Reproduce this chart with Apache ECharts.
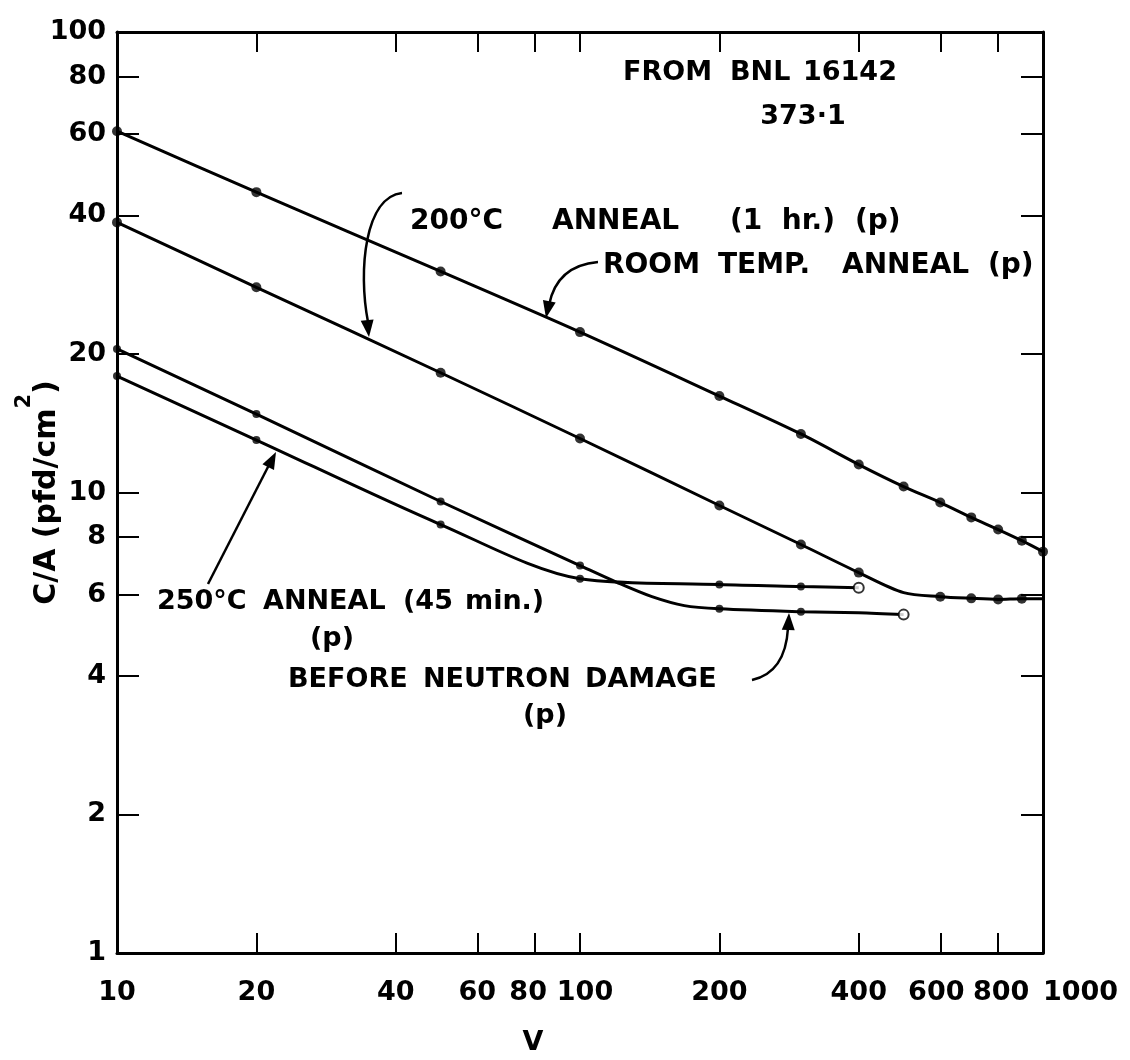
<!DOCTYPE html>
<html><head><meta charset="utf-8">
<script src="https://cdn.jsdelivr.net/npm/echarts@6/dist/echarts.min.js"></script>
<style>html,body{margin:0;padding:0;background:#fff}#c{width:1130px;height:1060px}</style>
</head><body><div id="c"></div>
<script>
// ---- tick / label values ----
const xTickValues = [20, 40, 60, 80, 100, 200, 400, 600, 800];
const xLabelValues = [10, 20, 40, 60, 80, 100, 200, 400, 600, 800, 1000];
const yTickValues = [2, 4, 6, 8, 10, 20, 40, 60, 80];
const yLabelValues = [1, 2, 4, 6, 8, 10, 20, 40, 60, 80, 100];

// ---- ROOM TEMP. ANNEAL (p) ----
const roomV  = [10, 20, 50, 100, 200, 300, 400, 500, 600, 700, 800, 900, 1000];
const roomCA = [60.9, 44.9, 30.2, 22.3, 16.2, 13.4, 11.5, 10.3, 9.51, 8.83, 8.31, 7.86, 7.44];

// ---- 200°C ANNEAL (1 hr.) (p) ----
const a200V  = [10, 20, 50, 100, 200, 300, 400, 600, 700, 800, 900];
const a200CA = [38.6, 27.9, 18.2, 13.1, 9.37, 7.71, 6.70, 5.94, 5.89, 5.86, 5.88];
const a200CurveV  = [500, 1000];
const a200CurveCA = [6.06, 5.88];

// ---- 250°C ANNEAL (45 min.) (p) ----
const a250V  = [10, 20, 50, 100, 200, 300];
const a250CA = [17.9, 13.0, 8.52, 6.5, 6.31, 6.25];
const a250OpenV  = [400];
const a250OpenCA = [6.21];

// ---- BEFORE NEUTRON DAMAGE (p) ----
const preV  = [10, 20, 50, 100, 200, 300];
const preCA = [20.5, 14.8, 9.56, 6.94, 5.59, 5.51];
const preOpenV  = [500];
const preOpenCA = [5.43];
const preCurveV  = [121, 143, 168, 400];
const preCurveCA = [6.36, 5.94, 5.68, 5.48];

const lg = v => Math.round(Math.log10(v) * 1e9) / 1e9;
const FONT = '"DejaVu Sans", "Liberation Sans", sans-serif';
function pts(v, c) { return v.map((x, i) => [lg(x), lg(c[i])]); }
function merged(...pairs) {
  let all = [];
  for (let i = 0; i < pairs.length; i += 2) all = all.concat(pts(pairs[i], pairs[i + 1]));
  return all.sort((a, b) => a[0] - b[0]);
}
const val = v => Math.round(Math.pow(10, v));
const fmtY = v => String(val(v));

const labelStyle = { color: '#000', fontFamily: FONT, fontWeight: 'bold', fontSize: 27 };
// hand-lettered label offsets of the original (px, + = right)
const xNudge = { 80: -7, 100: 5, 600: -4, 800: 3 };
const xRich = {};
Object.keys(xNudge).forEach(k => {
  const d = xNudge[k];
  xRich['n' + k] = Object.assign({ padding: d > 0 ? [0, 0, 0, 2 * d] : [0, -2 * d, 0, 0] }, labelStyle);
});
const fmtX = v => { const n = val(v); return xNudge[n] !== undefined ? '{n' + n + '|' + n + '}' : String(n); };

const chart = echarts.init(document.getElementById('c'), null, { renderer: 'canvas' });

const axisLine = { show: true, onZero: false, lineStyle: { color: '#000', width: 3 } };
const tickStyle = { color: '#000', width: 2 };

function lineSeries(data) {
  return { type: 'line', data, smooth: 0.3, showSymbol: false, symbol: 'none',
    lineStyle: { color: '#000', width: 3 }, z: 2, silent: true };
}
function dotSeries(data, size) {
  return { type: 'scatter', data, symbol: 'circle', symbolSize: size,
    itemStyle: { color: '#000' }, z: 3, silent: true };
}
function openSeries(data) {
  return { type: 'scatter', data, symbol: 'circle', symbolSize: 10,
    itemStyle: { color: '#fff', borderColor: '#000', borderWidth: 2 }, z: 4, silent: true };
}

chart.setOption({
  animation: false,
  backgroundColor: '#fff',
  grid: { left: 117, right: 87, top: 32, bottom: 107, containLabel: false, outerBoundsMode: 'none' },
  xAxis: [
    { type: 'value', min: 1, max: 3, position: 'bottom',
      axisLine, splitLine: { show: false },
      axisTick: { show: true, inside: true, length: 20, lineStyle: tickStyle, customValues: xTickValues.map(lg) },
      axisLabel: Object.assign({ customValues: xLabelValues.map(lg), formatter: fmtX, margin: 26,
        alignMaxLabel: 'left', rich: xRich }, labelStyle),
      name: 'V', nameLocation: 'middle', nameGap: 76, nameMoveOverlap: false,
      nameTextStyle: Object.assign({ padding: [0, 94, 0, 0] }, labelStyle) },
    { type: 'value', min: 1, max: 3, position: 'top',
      axisLine, splitLine: { show: false },
      axisTick: { show: true, inside: true, length: 20, lineStyle: tickStyle, customValues: xTickValues.map(lg) },
      axisLabel: { show: false } }
  ],
  yAxis: [
    { type: 'value', min: 0, max: 2, position: 'left',
      axisLine, splitLine: { show: false },
      axisTick: { show: true, inside: true, length: 22, lineStyle: tickStyle, customValues: yTickValues.map(lg) },
      axisLabel: Object.assign({ customValues: yLabelValues.map(lg), formatter: fmtY, margin: 11 }, labelStyle),
      name: '{t|C/A (pfd/cm}{s|2}{t|)}', nameLocation: 'middle', nameGap: 36, nameRotate: 90,
      nameMoveOverlap: false,
      nameTextStyle: { rich: {
        t: { fontFamily: FONT, fontWeight: 'bold', fontSize: 30, color: '#000' },
        s: { fontFamily: FONT, fontWeight: 'bold', fontSize: 21, color: '#000', padding: [0, 0, 46, 0] }
      } } },
    { type: 'value', min: 0, max: 2, position: 'right',
      axisLine, splitLine: { show: false },
      axisTick: { show: true, inside: true, length: 22, lineStyle: tickStyle, customValues: yTickValues.map(lg) },
      axisLabel: { show: false } }
  ],
  series: [
    lineSeries(merged(roomV, roomCA)),
    dotSeries(pts(roomV, roomCA), 10),
    lineSeries(merged(a200V, a200CA, a200CurveV, a200CurveCA)),
    dotSeries(pts(a200V, a200CA), 10),
    lineSeries(merged(a250V, a250CA, a250OpenV, a250OpenCA)),
    dotSeries(pts(a250V, a250CA), 8),
    openSeries(pts(a250OpenV, a250OpenCA)),
    lineSeries(merged(preV, preCA, preOpenV, preOpenCA, preCurveV, preCurveCA)),
    dotSeries(pts(preV, preCA), 8),
    openSeries(pts(preOpenV, preOpenCA))
  ]
});

// ---- annotations ----
function txt(text, x, y, align, size) {
  return { type: 'text', z: 10, silent: true,
    style: { text, x, y, font: 'bold ' + (size || 28) + 'px ' + FONT, fill: '#000',
      align: align || 'left', verticalAlign: 'middle' } };
}
function head(tx, ty, fx, fy) {
  const dx = tx - fx, dy = ty - fy, L = Math.hypot(dx, dy), ux = dx / L, uy = dy / L;
  const len = 17, hw = 6.5;
  const bx = tx - ux * len, by = ty - uy * len;
  return { type: 'polygon', z: 10, silent: true,
    shape: { points: [[tx, ty], [bx - uy * hw, by + ux * hw], [bx + uy * hw, by - ux * hw]] },
    style: { fill: '#000' } };
}
function curve(x1, y1, cx1, cy1, cx2, cy2, x2, y2) {
  return { type: 'bezierCurve', z: 10, silent: true,
    shape: { x1, y1, cpx1: cx1, cpy1: cy1, cpx2: cx2, cpy2: cy2, x2, y2 },
    style: { stroke: '#000', lineWidth: 2.5, fill: null } };
}
const graphics = [
  txt('FROM', 623, 73, 'left', 27), txt('BNL', 730, 73, 'left', 27), txt('16142', 803, 73, 'left', 27),
  txt('373\u00b71', 803, 117, 'center', 27),
  txt('200\u00b0C', 410, 222), txt('ANNEAL', 552, 222), txt('(1  hr.)', 730, 222), txt('(p)', 855, 222),
  txt('ROOM', 603, 266), txt('TEMP.', 718, 266), txt('ANNEAL', 842, 266), txt('(p)', 988, 266),
  txt('250\u00b0C', 157, 602, 'left', 27), txt('ANNEAL', 263, 602, 'left', 27),
  txt('(45', 403, 602, 'left', 27), txt('min.)', 465, 602, 'left', 27),
  txt('(p)', 332, 639, 'center', 27),
  txt('BEFORE', 288, 680, 'left', 27), txt('NEUTRON', 423, 680, 'left', 27), txt('DAMAGE', 585, 680, 'left', 27),
  txt('(p)', 545, 716, 'center', 27),
  // 200°C arrow
  curve(402, 193, 365, 197, 358, 270, 368, 322),
  head(369, 337, 366, 310),
  // room temp arrow
  curve(598, 262, 575, 264, 555, 275, 549, 305),
  head(546, 318, 550, 298),
  // 250°C arrow (straight)
  { type: 'line', z: 10, silent: true, shape: { x1: 208, y1: 584, x2: 270, y2: 463 },
    style: { stroke: '#000', lineWidth: 2.5 } },
  head(276, 452, 208, 584),
  // before neutron arrow
  curve(752, 680, 770, 676, 786, 662, 788, 628),
  head(789, 613, 788, 635)
];
chart.setOption({ graphic: graphics });
</script></body></html>
